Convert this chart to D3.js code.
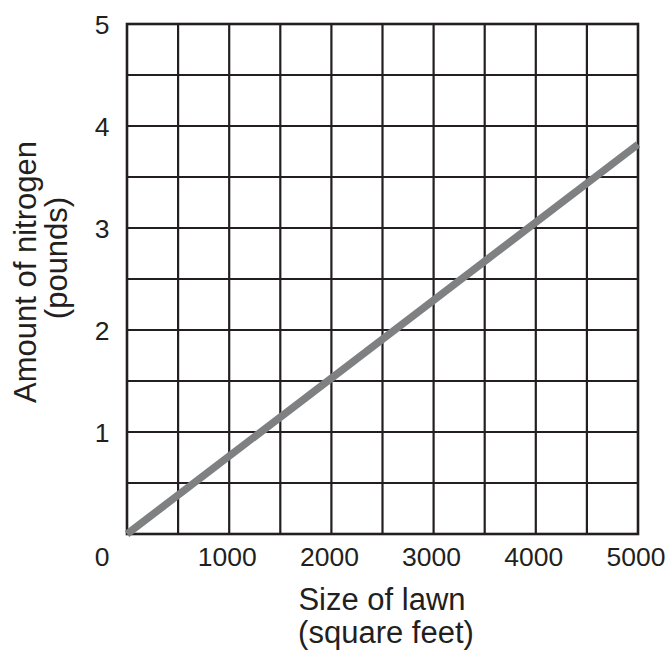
<!DOCTYPE html>
<html>
<head>
<meta charset="utf-8">
<script src="https://cdn.jsdelivr.net/npm/d3@7"></script>
<style>
  html, body { margin: 0; padding: 0; background: #fff; }
  svg { display: block; font-family: "Liberation Sans", Arial, Helvetica, sans-serif; }
</style>
</head>
<body>
<svg id="chart" width="667" height="655"></svg>
<script>
// ---- data ----
const lawnSize = [0, 5000];          // square feet
const nitrogen = [0, 3.82];          // pounds
const xTickLabels = ["1000", "2000", "3000", "4000", "5000"];
const xTickValues = [1000, 2000, 3000, 4000, 5000];
const yTickLabels = ["1", "2", "3", "4", "5"];
const yTickValues = [1, 2, 3, 4, 5];
const xGrid = [500, 1000, 1500, 2000, 2500, 3000, 3500, 4000, 4500];
const yGrid = [0.5, 1, 1.5, 2, 2.5, 3, 3.5, 4, 4.5];

const ink = "#231f20";
const svg = d3.select("#chart");
const x = d3.scaleLinear().domain([0, 5000]).range([127, 638]);
const y = d3.scaleLinear().domain([0, 5]).range([534, 24]);

// grid
svg.append("g").selectAll("line").data(xGrid).join("line")
  .attr("x1", d => x(d)).attr("x2", d => x(d))
  .attr("y1", y(0)).attr("y2", y(5))
  .attr("stroke", ink).attr("stroke-width", 2.2);
svg.append("g").selectAll("line").data(yGrid).join("line")
  .attr("y1", d => y(d)).attr("y2", d => y(d))
  .attr("x1", x(0)).attr("x2", x(5000))
  .attr("stroke", ink).attr("stroke-width", 2.2);
svg.append("rect")
  .attr("x", x(0)).attr("y", y(5))
  .attr("width", x(5000) - x(0)).attr("height", y(0) - y(5))
  .attr("fill", "none").attr("stroke", ink).attr("stroke-width", 2.6);

// line
const pts = lawnSize.map((s, i) => [s, nitrogen[i]]);
svg.append("path")
  .datum(pts)
  .attr("d", d3.line().x(d => x(d[0])).y(d => y(d[1])))
  .attr("fill", "none").attr("stroke", "#7f8082").attr("stroke-width", 7.5);

// tick labels
svg.append("g").selectAll("text").data(xTickValues).join("text")
  .attr("x", d => x(d) - 2).attr("y", 566)
  .attr("text-anchor", "middle").attr("font-size", 26.5).attr("fill", ink)
  .text((d, i) => xTickLabels[i]);
svg.append("g").selectAll("text").data(yTickValues).join("text")
  .attr("x", 102).attr("y", d => y(d) + 9.5)
  .attr("text-anchor", "middle").attr("font-size", 26.5).attr("fill", ink)
  .text((d, i) => yTickLabels[i]);
svg.append("text")
  .attr("x", 102).attr("y", 566)
  .attr("text-anchor", "middle").attr("font-size", 26.5).attr("fill", ink)
  .text("0");

// axis titles
svg.append("text").attr("x", 382).attr("y", 610)
  .attr("text-anchor", "middle").attr("font-size", 31).attr("fill", ink)
  .text("Size of lawn");
svg.append("text").attr("x", 386).attr("y", 643)
  .attr("text-anchor", "middle").attr("font-size", 31).attr("fill", ink)
  .text("(square feet)");
svg.append("text")
  .attr("transform", "translate(36,272) rotate(-90)")
  .attr("text-anchor", "middle").attr("font-size", 31).attr("fill", ink)
  .text("Amount of nitrogen");
svg.append("text")
  .attr("transform", "translate(67,258) rotate(-90)")
  .attr("text-anchor", "middle").attr("font-size", 31).attr("fill", ink)
  .text("(pounds)");
</script>
</body>
</html>
